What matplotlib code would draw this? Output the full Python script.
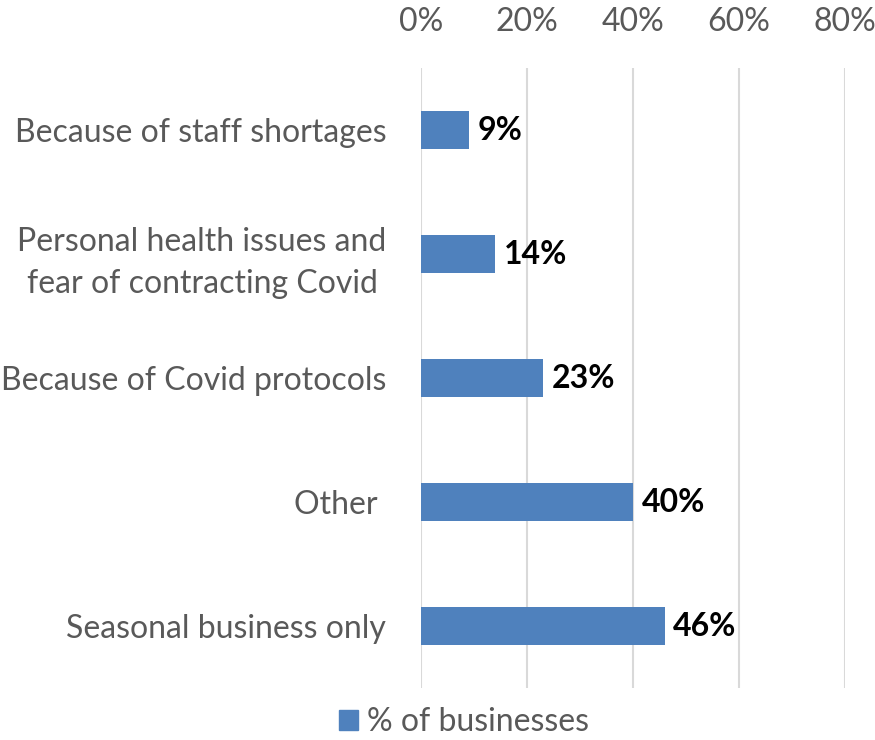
import matplotlib.pyplot as plt
from matplotlib.patches import Patch

categories = ["Because of staff shortages",
              "Personal health issues and\nfear of contracting Covid ",
              "Because of Covid protocols",
              "Other ",
              "Seasonal business only"]
values = [9, 14, 23, 40, 46]
ticks = [0, 20, 40, 60, 80]

plt.rcParams['font.family'] = ['Lato', 'DejaVu Sans']
grey = '#595959'
blue = '#4F81BD'

fig = plt.figure(figsize=(8.75, 7.4), dpi=100)
ax = fig.add_axes([421/875, 1 - 688/740, 424/875, 620/740])

y = list(range(len(categories)))
ax.barh(y, values, height=0.31, color=blue, zorder=3)
for yi, v in zip(y, values):
    ax.text(v + 1.6, yi, f"{v}%", va='center', ha='left',
            fontsize=23, fontweight='bold', color='black')

ax.set_xlim(0, 80)
ax.set_ylim(len(categories) - 0.5, -0.5)
ax.set_yticks(y)
ax.set_yticklabels(categories, fontsize=23, color=grey, ha='right',
                   linespacing=1.5)
ax.set_xticks(ticks)
ax.set_xticklabels([f"{t}%" for t in ticks], fontsize=23, color=grey)
ax.xaxis.tick_top()
ax.tick_params(length=0, pad=22)
ax.tick_params(axis='y', pad=25)
ax.grid(axis='x', color='#D9D9D9', linewidth=1.5, zorder=0)
for s in ax.spines.values():
    s.set_visible(False)

fig.legend(handles=[Patch(color=blue, label='% of businesses')],
           loc='center', bbox_to_anchor=(464/875, 1 - 722/740),
           frameon=False, fontsize=23, labelcolor=grey,
           handlelength=0.6, handleheight=0.6, handletextpad=0.3)

fig.savefig('out.png', dpi=100)
